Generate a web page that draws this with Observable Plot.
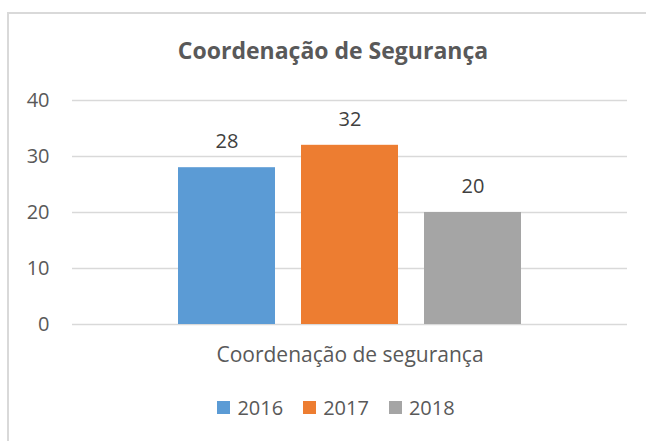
<!DOCTYPE html>
<html><head><meta charset="utf-8">
<script src="https://cdn.jsdelivr.net/npm/d3@7"></script>
<script src="https://cdn.jsdelivr.net/npm/@observablehq/plot@0.6"></script>
<style>
html,body{margin:0;padding:0;background:#fff;font-family:"Open Sans",sans-serif;}
#hline{position:absolute;left:7px;top:12px;width:639px;height:2px;background:#d9d9d9;}
#vline{position:absolute;left:7px;top:12px;width:2px;height:429px;background:#d9d9d9;}
#chart{position:absolute;left:0;top:0;width:646px;height:380px;}
#title{position:absolute;left:20px;width:626px;top:34px;text-align:center;font-weight:bold;font-size:23px;color:#595959;line-height:32px;white-space:nowrap;}
#legend{position:absolute;left:26px;width:620px;top:393px;height:28px;display:flex;justify-content:center;align-items:center;font-size:20px;color:#595959;}
.item{display:flex;align-items:center;margin:0 10px;}
.sw{width:13px;height:13px;margin-right:7px;}
</style></head>
<body>
<div id="hline"></div>
<div id="vline"></div>
<div id="chart"></div>
<div id="title">Coordenação de Segurança</div>
<div id="legend"></div>
<script>
const categories = ["Coordenação de segurança"];
const years = ["2016", "2017", "2018"];
const values = [28, 32, 20];
const colors = ["#5B9BD5", "#ED7D31", "#A5A5A5"];
const yTicks = [0, 10, 20, 30, 40];

const data = years.map((yr, i) => ({category: categories[0], year: yr, value: values[i]}));

const chart = Plot.plot({
  width: 646,
  height: 380,
  marginTop: 100,
  marginBottom: 56,
  marginLeft: 72,
  marginRight: 19,
  style: {fontFamily: "'Open Sans', sans-serif", fontSize: "20px", color: "#595959", background: "transparent"},
  fx: {domain: categories, padding: 0, round: false},
  x: {domain: years, paddingInner: 0.2114, paddingOuter: 0.8618, round: false, axis: null},
  y: {domain: [0, 40], ticks: yTicks, label: null, tickSize: 0, tickPadding: 23},
  color: {domain: years, range: colors},
  marks: [
    Plot.ruleY(yTicks, {stroke: "#d9d9d9", strokeWidth: 1.5}),
    Plot.barY(data, {fx: "category", x: "year", y: "value", fill: "year"}),
    Plot.text(data, {fx: "category", x: "year", y: "value", text: "value", dy: -26, fill: "#404040", fontSize: 20}),
    Plot.axisFx({anchor: "bottom", label: null, tickSize: 0, tickPadding: 23, fontSize: 21})
  ]
});
document.getElementById("chart").appendChild(chart);

const legend = document.getElementById("legend");
years.forEach((yr, i) => {
  const item = document.createElement("div");
  item.className = "item";
  const sw = document.createElement("span");
  sw.className = "sw";
  sw.style.background = colors[i];
  const t = document.createElement("span");
  t.textContent = yr;
  item.appendChild(sw);
  item.appendChild(t);
  legend.appendChild(item);
});
</script>
</body></html>
